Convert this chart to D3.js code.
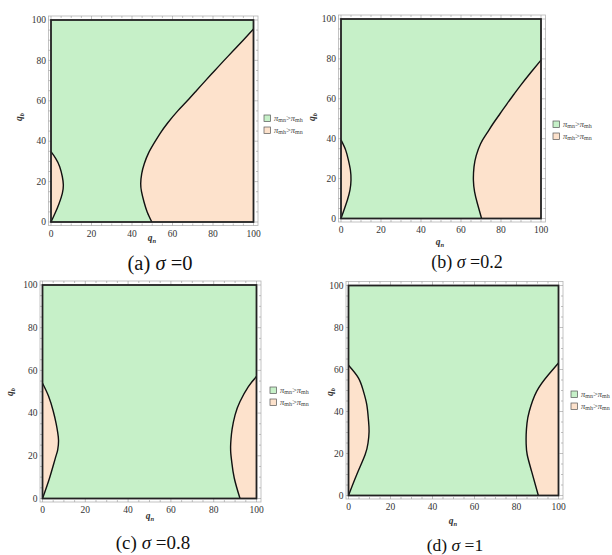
<!DOCTYPE html>
<html>
<head>
<meta charset="utf-8">
<script src="https://cdn.jsdelivr.net/npm/d3@7"></script>
<style>
  body { margin: 0; background: #fff; }
  svg { display: block; }
  text { font-family: "Liberation Serif", "DejaVu Serif", serif; }
</style>
</head>
<body>
<svg id="chart" width="612" height="555"></svg>
<script>
// region boundaries, points are [q_n, q_b], q_b going up
var leftA = [[0,0],[2,4.3],[4,9.2],[5.6,14.2],[6.1,18.3],[5.6,22.4],[4.3,27.4],[2.3,31.5],[0,34.8]];
var rightA = [[49.8,0],[47.5,5],[45.9,10],[44.7,15],[44.3,19],[44.8,24],[46.1,29],[48.1,34],[50.9,39],[54,44],[57.6,49],[62.6,55],[67.3,60],[71.8,65],[76.3,70],[80.9,75],[85.5,80],[90.2,85],[94.9,90],[100,95.5]];
var leftB = [[0,0],[1.5,4.3],[3.2,9.3],[4.5,14.3],[5,19.3],[4.7,24.3],[3.7,29.3],[2.3,34.4],[0,39.4]];
var rightB = [[70.3,0],[68.2,7.5],[66.8,13.4],[66.2,19.2],[66.5,25.9],[67.6,31.5],[69.8,37.5],[72.8,42.5],[76,47.5],[79.5,52.5],[83,57.5],[86.5,62.3],[90,67],[95,73.3],[100,79.4]];
var leftC = [[0,0],[3.3,9.6],[6,18.9],[7.1,22.8],[7.5,27],[7.1,31],[6.4,35],[5,41],[2.8,48],[0,54]];
var rightC = [[92.3,0],[89.6,9.6],[88.4,17.4],[88,21],[87.9,24.5],[88.1,28],[88.6,32.5],[90,39.2],[92.3,45.4],[96.2,52.4],[100,57.1]];
var leftD = [[0,0],[3.9,9.9],[7.9,19.4],[9.3,25],[9.8,30.5],[9.5,36],[8.7,43.3],[7,50],[4.7,56],[0,62]];
var rightD = [[90.4,0],[87.2,11.5],[85.1,19.4],[84.6,24.5],[84.6,29],[85,34.5],[86.1,40.1],[89.6,49.6],[95.2,57.5],[100,63.1]];

var letters = ["a", "b", "c", "d"];
var sigmas = ["0", "0.2", "0.8", "1"];
var ticks = [0, 20, 40, 60, 80, 100];
var minorTicks = d3.range(0, 101, 5);
var legendItems = [["mn", "mh"], ["mh", "mn"]];

var green = "#c6f0c8", peach = "#fde2cc";

// layout of the four sub plots (pixel box of the 0..100 data area)
var panels = [
  {left: leftA, right: rightA, box: [51, 253.5, 20, 222], legend: [267, 118], ylab: [22, 117], xlab: [152, 241], cap: [160, 270], capSize: 20.5},
  {left: leftB, right: rightB, box: [341, 541, 19, 218.5], legend: [556, 124], ylab: [315, 117], xlab: [440, 245], cap: [467, 268], capSize: 18},
  {left: leftC, right: rightC, box: [42.5, 256.5, 285, 498.5], legend: [273, 390], ylab: [13, 392], xlab: [150, 519], cap: [153, 549], capSize: 19},
  {left: leftD, right: rightD, box: [348.5, 558.5, 285.5, 495.5], legend: [574, 394], ylab: [333, 392], xlab: [453, 524], cap: [455, 551], capSize: 17.5}
];

var svg = d3.select("#chart");

panels.forEach(function(p, i) {
  var x = d3.scaleLinear().domain([0, 100]).range([p.box[0], p.box[1]]);
  var y = d3.scaleLinear().domain([0, 100]).range([p.box[3], p.box[2]]);
  var g = svg.append("g");

  // light mathematica style frame
  var fl = x(0) - 2.5, fr = x(100) + 4.5, ft = y(100) - 4, fb = y(0) + 3.5;
  g.append("rect")
    .attr("x", fl).attr("y", ft)
    .attr("width", fr - fl).attr("height", fb - ft)
    .attr("fill", "none").attr("stroke", "#b5b5b5").attr("stroke-width", 0.8);

  minorTicks.forEach(function(t) {
    var len = (t % 20 === 0) ? 3.5 : 2;
    g.append("line").attr("x1", x(t)).attr("x2", x(t)).attr("y1", fb).attr("y2", fb - len)
      .attr("stroke", "#999").attr("stroke-width", 0.6);
    g.append("line").attr("x1", x(t)).attr("x2", x(t)).attr("y1", ft).attr("y2", ft + len)
      .attr("stroke", "#999").attr("stroke-width", 0.6);
    g.append("line").attr("y1", y(t)).attr("y2", y(t)).attr("x1", fl).attr("x2", fl + len)
      .attr("stroke", "#999").attr("stroke-width", 0.6);
    g.append("line").attr("y1", y(t)).attr("y2", y(t)).attr("x1", fr).attr("x2", fr - len)
      .attr("stroke", "#999").attr("stroke-width", 0.6);
  });

  g.selectAll(".xt").data(ticks).enter().append("text")
    .attr("x", function(d) { return x(d); })
    .attr("y", fb + 11)
    .attr("text-anchor", "middle")
    .attr("font-size", 9.5).attr("fill", "#333")
    .text(function(d) { return d; });

  g.selectAll(".yt").data(ticks).enter().append("text")
    .attr("x", fl - 2.5)
    .attr("y", function(d) { return y(d) + 3.2; })
    .attr("text-anchor", "end")
    .attr("font-size", 9.5).attr("fill", "#333")
    .text(function(d) { return d; });

  // regions
  g.append("rect")
    .attr("x", x(0)).attr("y", y(100))
    .attr("width", x(100) - x(0)).attr("height", y(0) - y(100))
    .attr("fill", green);

  var line = d3.line()
    .x(function(d) { return x(d[0]); })
    .y(function(d) { return y(d[1]); })
    .curve(d3.curveNatural);

  g.append("path").attr("d", line(p.left) + "Z").attr("fill", peach);
  var rightPath = line(p.right) + "L" + x(100) + "," + y(0) + "Z";
  g.append("path").attr("d", rightPath).attr("fill", peach);

  g.append("path").attr("d", line(p.left)).attr("fill", "none")
    .attr("stroke", "#111").attr("stroke-width", 1.4);
  g.append("path").attr("d", line(p.right)).attr("fill", "none")
    .attr("stroke", "#111").attr("stroke-width", 1.4);

  g.append("rect")
    .attr("x", x(0)).attr("y", y(100))
    .attr("width", x(100) - x(0)).attr("height", y(0) - y(100))
    .attr("fill", "none").attr("stroke", "#222").attr("stroke-width", 1.8);

  // axis labels
  var yl = g.append("text")
    .attr("transform", "translate(" + p.ylab[0] + "," + p.ylab[1] + ") rotate(-90)")
    .attr("text-anchor", "middle")
    .attr("font-size", 9.5).attr("font-style", "italic").attr("font-weight", "bold").attr("fill", "#333");
  yl.append("tspan").text("q");
  yl.append("tspan").attr("font-size", 6.5).attr("dy", 2).text("b");

  var xl = g.append("text")
    .attr("x", p.xlab[0]).attr("y", p.xlab[1])
    .attr("text-anchor", "middle")
    .attr("font-size", 9.5).attr("font-style", "italic").attr("font-weight", "bold").attr("fill", "#333");
  xl.append("tspan").text("q");
  xl.append("tspan").attr("font-size", 6.5).attr("dy", 2).text("n");

  // legend
  legendItems.forEach(function(it, k) {
    var ly = p.legend[1] + k * 12;
    g.append("rect")
      .attr("x", p.legend[0] - 3).attr("y", ly - 3)
      .attr("width", 6.5).attr("height", 6.5)
      .attr("fill", k === 0 ? green : peach)
      .attr("stroke", "#555").attr("stroke-width", 0.7);
    var t = g.append("text")
      .attr("x", p.legend[0] + 7).attr("y", ly + 2.8)
      .attr("font-size", 8.5).attr("fill", "#444");
    t.append("tspan").attr("font-style", "italic").text("π");
    t.append("tspan").attr("font-size", 6).attr("dy", 1.5).text(it[0]);
    t.append("tspan").attr("dy", -1.5).text(">");
    t.append("tspan").attr("font-style", "italic").text("π");
    t.append("tspan").attr("font-size", 6).attr("dy", 1.5).text(it[1]);
  });

  // caption
  var cap = g.append("text")
    .attr("x", p.cap[0]).attr("y", p.cap[1])
    .attr("text-anchor", "middle")
    .attr("font-size", p.capSize).attr("fill", "#111");
  cap.append("tspan").text("(" + letters[i] + ") ");
  cap.append("tspan").attr("font-style", "italic").text("σ");
  cap.append("tspan").text(" =" + sigmas[i]);
});
</script>
</body>
</html>
